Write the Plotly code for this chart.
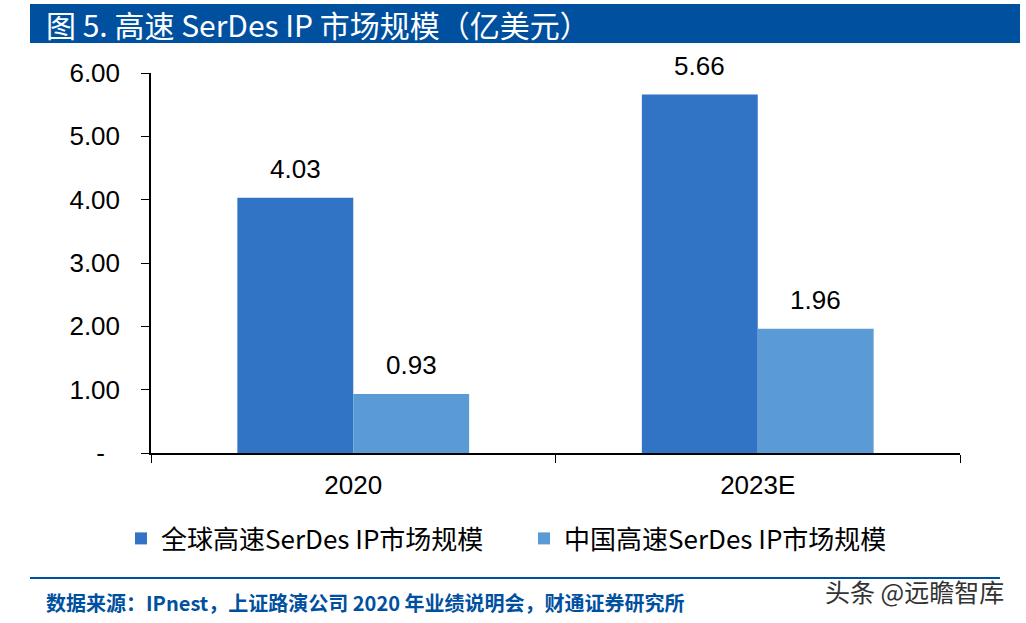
import plotly.graph_objects as go

categories = ["2020", "2023E"]
global_values = [4.03, 5.66]
china_values = [0.93, 1.96]
series_names = ["全球高速SerDes IP市场规模", "中国高速SerDes IP市场规模"]
y_tickvals = [0, 1, 2, 3, 4, 5, 6]
y_ticktext = ["-\u2002\u200a", "1.00", "2.00", "3.00", "4.00", "5.00", "6.00"]

FONT = "Liberation Sans, Arial, Noto Sans CJK SC"
CJK = "Noto Sans CJK SC, Liberation Sans"

# plot area in page coords: x 151..960, y 73..453 (body margin removed below)
OFF = 0
PL, PR, PT, PB = 151, 960, 73, 453
PW, PH = PR - PL, PB - PT
FW, FH = 1026, 623
BAR_HALF = 58  # half of one bar's pixel width, for label placement


def px(x):
    return (x - PL) / PW


def py(y):
    return (PB - y) / PH


fig = go.Figure()
fig.add_trace(go.Bar(
    x=categories, y=global_values, name=series_names[0],
    marker=dict(color="#3173C4", line=dict(width=0)),
))
fig.add_trace(go.Bar(
    x=categories, y=china_values, name=series_names[1],
    marker=dict(color="#5B9BD5", line=dict(width=0)),
))

for i, (g, c) in enumerate(zip(global_values, china_values)):
    for val, shift in ((g, -BAR_HALF), (c, BAR_HALF)):
        fig.add_annotation(x=i, y=val, xref="x", yref="y",
                           xshift=shift, yshift=12, yanchor="bottom",
                           showarrow=False, text=f"{val:.2f}",
                           font=dict(size=26, color="black", family=FONT))

fig.update_layout(
    width=FW, height=FH,
    margin=dict(l=PL - OFF, r=FW - (PR - OFF), t=PT - OFF, b=FH - (PB - OFF)),
    paper_bgcolor="white", plot_bgcolor="white",
    barmode="group", bargap=0.427, bargroupgap=0,
    font=dict(family=FONT, color="black"),
    showlegend=True,
    legend=dict(
        orientation="h", x=px(121), xanchor="left", y=py(515), yanchor="top",
        font=dict(size=26, family=CJK, color="black"),
        entrywidth=358, entrywidthmode="pixels", tracegroupgap=0,
    ),
    xaxis=dict(
        type="category",
        showline=True, linecolor="black", linewidth=1.5,
        ticks="outside", tickson="boundaries", ticklen=8, tickcolor="black",
        tickfont=dict(size=26, family=FONT), ticklabelstandoff=8,
        showgrid=False, zeroline=False,
    ),
    yaxis=dict(
        range=[0, 6], tickvals=y_tickvals, ticktext=y_ticktext,
        showline=True, linecolor="black", linewidth=1.5,
        ticks="outside", ticklen=8, tickcolor="black",
        tickfont=dict(size=26, family=FONT), ticklabelstandoff=16,
        showgrid=False, zeroline=False,
    ),
)

# Title bar
fig.add_shape(type="rect", xref="paper", yref="paper",
              x0=px(30), x1=px(1020), y0=py(43), y1=py(4),
              fillcolor="#0050A0", line=dict(width=0), layer="below")
fig.add_annotation(xref="paper", yref="paper",
                   x=px(44), y=py(24),
                   xanchor="left", yanchor="middle", showarrow=False,
                   text="图 5. 高速 SerDes IP 市场规模（亿美元）",
                   font=dict(size=30, color="white", family=CJK))
# Footer line
fig.add_shape(type="line", xref="paper", yref="paper",
              x0=px(30), x1=px(1000), y0=py(578), y1=py(578),
              line=dict(color="#0050A0", width=2))
fig.add_annotation(xref="paper", yref="paper",
                   x=px(44), y=py(602),
                   xanchor="left", yanchor="middle", showarrow=False,
                   text="<b>数据来源：IPnest，上证路演公司 2020 年业绩说明会，财通证券研究所</b>",
                   font=dict(size=20, color="#0050A0", family=CJK))
fig.add_annotation(xref="paper", yref="paper",
                   x=px(1006), y=py(591),
                   xanchor="right", yanchor="middle", showarrow=False,
                   text="头条 @远瞻智库",
                   font=dict(size=25, color="#333333", family=CJK))

fig.write_html("out.html",
               config={"displayModeBar": False},
               post_script="document.body.style.margin='0px';"
                           "document.body.style.overflow='hidden';")
